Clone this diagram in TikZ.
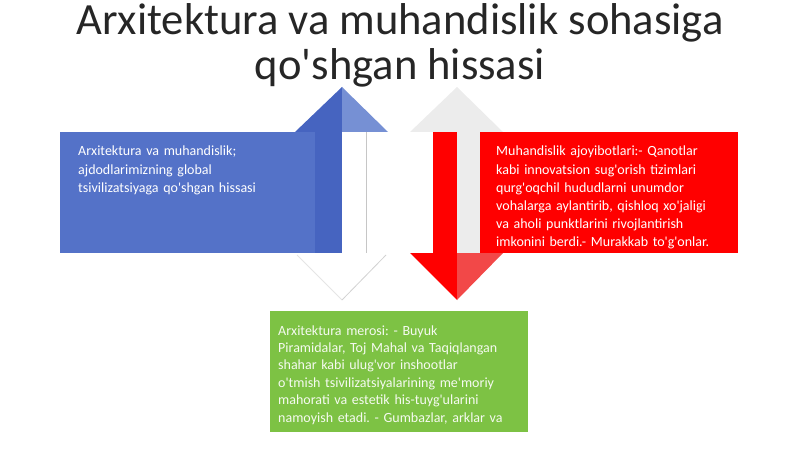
\documentclass[tikz,border=0pt]{standalone}
\usepackage{fontspec}
\usepackage{tikz}
\usepackage{xcolor}
\usetikzlibrary{positioning}
\newfontfamily\slidefont{Carlito}
\frenchspacing
\definecolor{boxblue}{RGB}{84,114,200}
\definecolor{darkblue}{RGB}{70,100,192}
\definecolor{lightblue}{RGB}{118,144,212}
\definecolor{boxred}{RGB}{255,0,0}
\definecolor{lightred}{RGB}{242,72,72}
\definecolor{boxgreen}{RGB}{125,194,68}
\definecolor{palegray}{RGB}{236,236,236}

\begin{document}
\begin{tikzpicture}[
    x=1pt, y=-1pt,
    every node/.style={inner sep=0pt},
    titletext/.style={font=\slidefont\fontsize{44.6}{46}\selectfont, text=black!85, anchor=base},
    box/.style={rectangle, anchor=north west, minimum width=258pt, minimum height=121pt},
    bodytext/.style={font=\slidefont\fontsize{14}{18.2}\selectfont, text=white, align=left, text width=250pt, anchor=base west},
    edge/.style={draw=gray!35, line width=0.8pt}
]
\useasboundingbox (0,0) rectangle (800,449);

% 标题
\node[titletext] (title) at (400,35) {Arxitektura va muhandislik sohasiga};
\node[titletext] (subtitle) at (400,80) {qo'shgan hissasi};

% 右侧箭头（向下）
\fill[palegray] (410,132) -- (457,87) -- (503,132) -- cycle;
\fill[boxred] (433,132) rectangle (457,253);
\fill[palegray] (457,132) rectangle (480,253);
\fill[boxred] (410,253) -- (457,300) -- (457,253) -- cycle;
\fill[lightred] (457,253) -- (503,253) -- (457,300) -- cycle;

% 左侧箭头（向上）
\fill[darkblue] (295,132) -- (342,87) -- (342,132) -- cycle;
\fill[lightblue] (342,87) -- (388,132) -- (342,132) -- cycle;
\fill[white] (295,253) -- (342,300) -- (388,253) -- cycle;
\draw[edge, draw=gray!20] (297,255) -- (342,300);
\draw[edge] (342,300) -- (386,255);
\draw[gray!45, line width=0.6pt] (366,132) -- (366,253);

% 文本框
\node[box, fill=boxblue, minimum width=282pt] (archbox) at (60,132) {};
\fill[darkblue] (315,132) rectangle (342,253);
\node[box, fill=boxred] (engbox) at (480,132) {};
\node[box, fill=boxgreen] (heritagebox) at (270,311) {};

% 文本
\node[bodytext] (archtext) at ([xshift=18pt, yshift=-24pt]archbox.north west)
    {Arxitektura va muhandislik;\\ajdodlarimizning global\\tsivilizatsiyaga qo'shgan hissasi};
\node[bodytext] (engtext) at ([xshift=16pt, yshift=-24pt]engbox.north west)
    {Muhandislik ajoyibotlari:- Qanotlar\\kabi innovatsion sug'orish tizimlari\\qurg'oqchil hududlarni unumdor\\vohalarga aylantirib, qishloq xo'jaligi\\va aholi punktlarini rivojlantirish\\imkonini berdi.- Murakkab to'g'onlar.};
\node[bodytext, font=\slidefont\fontsize{14}{17.4}\selectfont, text=white!92!boxgreen] (heritagetext) at ([xshift=8pt, yshift=-24pt]heritagebox.north west)
    {Arxitektura merosi: - Buyuk\\Piramidalar, Toj Mahal va Taqiqlangan\\shahar kabi ulug'vor inshootlar\\o'tmish tsivilizatsiyalarining me'moriy\\mahorati va estetik his-tuyg'ularini\\namoyish etadi. - Gumbazlar, arklar va};

\end{tikzpicture}
\end{document}
